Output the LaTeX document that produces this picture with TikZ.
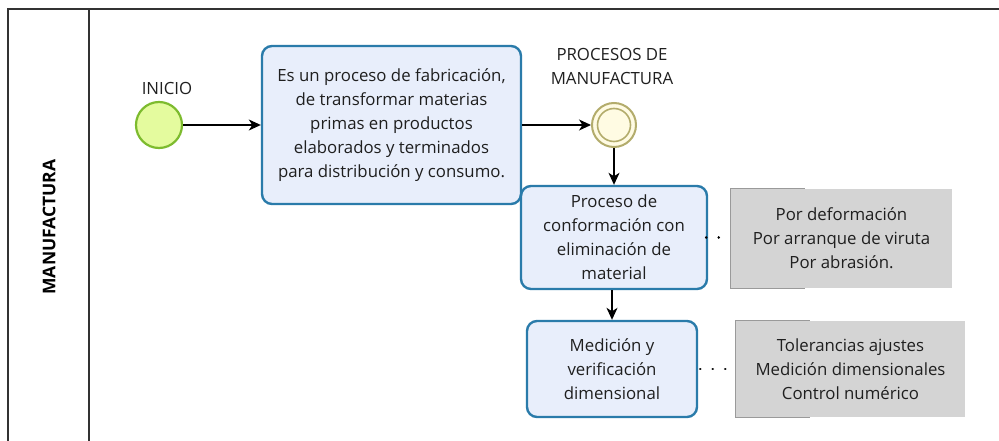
\documentclass[tikz,border=0pt]{standalone}
\usepackage{fontspec}
\setmainfont{Open Sans}
\usetikzlibrary{arrows.meta}
\definecolor{taskfill}{HTML}{E8EEFB}
\definecolor{taskline}{HTML}{2A7BAA}
\definecolor{startfill}{HTML}{E4FB9E}
\definecolor{startline}{HTML}{7DBB2E}
\definecolor{evfill}{HTML}{FFFBE3}
\definecolor{evline}{HTML}{B3AC6C}
\definecolor{annfill}{HTML}{D4D4D4}
\definecolor{annline}{HTML}{9A9A9A}
\definecolor{frameline}{HTML}{333333}
\tikzset{
  txt/.style={font=\fontsize{16.8}{24}\selectfont, text=black!88},
  task/.style={txt, draw=taskline, fill=taskfill, line width=2.4pt, rounded corners=10pt, align=center, inner sep=0pt},
  ann/.style={txt, fill=annfill, align=center, inner sep=0pt},
  flow/.style={line width=1.1pt, -{Stealth[length=12pt,width=11pt,inset=3.5pt]}},
  assoc/.style={line width=2.8pt, dash pattern=on 0.01pt off 12.5pt, line cap=round},
  lbl/.style={txt, align=center, inner sep=0pt},
}
\begin{document}
\begin{tikzpicture}[x=1pt,y=-1pt]
\useasboundingbox (0,0) rectangle (999,441);
% pool frame
\draw[frameline, line width=1.4pt] (999,9) -- (8,9) -- (8,441);
\draw[frameline, line width=1.4pt] (89,9) -- (89,441);
\node[font=\fontsize{17.5}{20}\selectfont\bfseries, rotate=90] (lane) at (49,227) {MANUFACTURA};
% start event
\node[circle, draw=startline, fill=startfill, line width=2.2pt, minimum size=46pt, inner sep=0pt] (start) at (159,125) {};
\node[lbl] (startlbl) at (167,88) {INICIO};
% task 1
\node[task, minimum width=259pt, minimum height=158pt] (t1) at (391.5,125)
  {Es un proceso de fabricación,\\ de transformar materias\\ primas en productos\\ elaborados y terminados\\ para distribución y consumo.};
% intermediate event
\node[circle, draw=evline, fill=evfill, line width=2pt, minimum size=44pt, inner sep=0pt] (ev) at (614,125) {};
\draw[evline, line width=1.6pt] (ev.center) circle (16.5pt);
\node[lbl] (evlbl) at (612,66) {PROCESOS DE\\ MANUFACTURA};
% task 2, 3
\node[task, minimum width=186pt, minimum height=103pt] (t2) at (614,237.5)
  {Proceso de\\ conformación con\\ eliminación de\\ material};
\node[task, minimum width=170pt, minimum height=96pt] (t3) at (612,369)
  {Medición y\\ verificación\\ dimensional};
% annotations
\node[ann, minimum width=221pt, minimum height=99pt] (a1) at (841.5,238.5)
  {Por deformación\\ Por arranque de viruta\\ Por abrasión.};
\draw[annline, line width=1.2pt] ([xshift=74pt]a1.north west) -- (a1.north west) -- (a1.south west) -- ([xshift=74pt]a1.south west);
\node[ann, minimum width=229pt, minimum height=96pt] (a2) at (850.5,369)
  {Tolerancias ajustes\\ Medición dimensionales\\ Control numérico};
\draw[annline, line width=1.2pt] ([xshift=74pt]a2.north west) -- (a2.north west) -- (a2.south west) -- ([xshift=74pt]a2.south west);
% flows
\draw[flow] (start) -- (t1.west |- start);
\draw[flow] (t1.east |- ev) -- (ev);
\draw[flow] (ev) -- (t2.north -| ev);
\draw[flow] (t2.south -| t3) -- (t3);
\draw[assoc] ([xshift=-2pt]t2.east) -- (a1.west |- t2.east);
\draw[assoc] ([xshift=2pt]t3.east) -- (a2.west |- t3.east);
\end{tikzpicture}
\end{document}
